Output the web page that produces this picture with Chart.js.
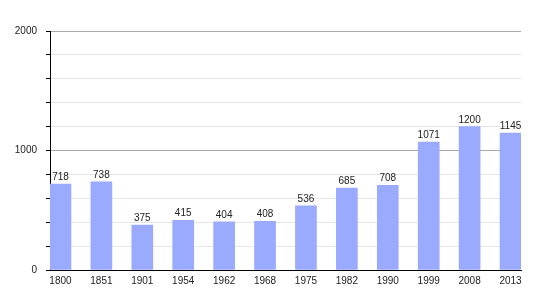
<!DOCTYPE html>
<html>
<head>
<meta charset="utf-8">
<script src="https://cdn.jsdelivr.net/npm/chart.js@4/dist/chart.umd.min.js"></script>
<style>
  html, body { margin: 0; padding: 0; background: #fff; }
  #wrap { width: 550px; height: 300px; }
</style>
</head>
<body>
<div id="wrap"><canvas id="popChart" width="550" height="300"></canvas></div>
<script>
// Population per census year
const years = ['1800', '1851', '1901', '1954', '1962', '1968', '1975', '1982', '1990', '1999', '2008', '2013'];
const population = [718, 738, 375, 415, 404, 408, 536, 685, 708, 1071, 1200, 1145];
const yLabels = [0, 1000, 2000];

const FONT = 'Liberation Sans, Arial, Helvetica, sans-serif';

// draw the value above each bar
const valueLabels = {
    id: 'valueLabels',
    afterDatasetsDraw(chart) {
        const ctx = chart.ctx;
        const meta = chart.getDatasetMeta(0);
        ctx.save();
        ctx.font = '10px ' + FONT;
        ctx.fillStyle = '#222';
        ctx.textAlign = 'center';
        ctx.textBaseline = 'alphabetic';
        meta.data.forEach((bar, i) => {
            ctx.fillText(String(population[i]), bar.x, bar.y - 4);
        });
        ctx.restore();
    }
};

let popChart = new Chart(document.getElementById('popChart').getContext('2d'), {
    type: 'bar',
    data: {
        datasets: [{
            data: population.map((v, i) => ({ x: i, y: v })),
            backgroundColor: '#99aaff',
            borderWidth: 0,
            barThickness: 21
        }]
    },
    options: {
        responsive: false,
        animation: false,
        layout: { padding: { top: 31, right: 29, left: 0, bottom: 0 } },
        plugins: {
            legend: { display: false },
            tooltip: { enabled: false }
        },
        scales: {
            x: {
                type: 'linear',
                offset: false,
                min: -0.256,
                max: 11.256,
                afterBuildTicks: scale => { scale.ticks = years.map((_, i) => ({ value: i })); },
                afterFit: scale => { scale.height = 30; },
                grid: { display: false, drawTicks: false },
                border: { display: true, color: '#000', width: 1 },
                ticks: {
                    autoSkip: false,
                    maxRotation: 0,
                    padding: 5,
                    color: '#222',
                    font: { family: FONT, size: 10 },
                    callback: v => years[v]
                }
            },
            y: {
                min: 0,
                max: 2000,
                afterFit: scale => { scale.width = 50; },
                grid: {
                    color: c => (c.tick && c.tick.value % 1000 === 0) ? '#aaaaaa' : '#e6e6e6',
                    tickColor: '#000',
                    tickLength: 4
                },
                border: { display: true, color: '#000', width: 1 },
                ticks: {
                    stepSize: 200,
                    padding: 9,
                    color: '#222',
                    font: { family: FONT, size: 10 },
                    callback: v => yLabels.includes(v) ? String(v) : ''
                }
            }
        }
    },
    plugins: [valueLabels]
});
</script>
</body>
</html>
